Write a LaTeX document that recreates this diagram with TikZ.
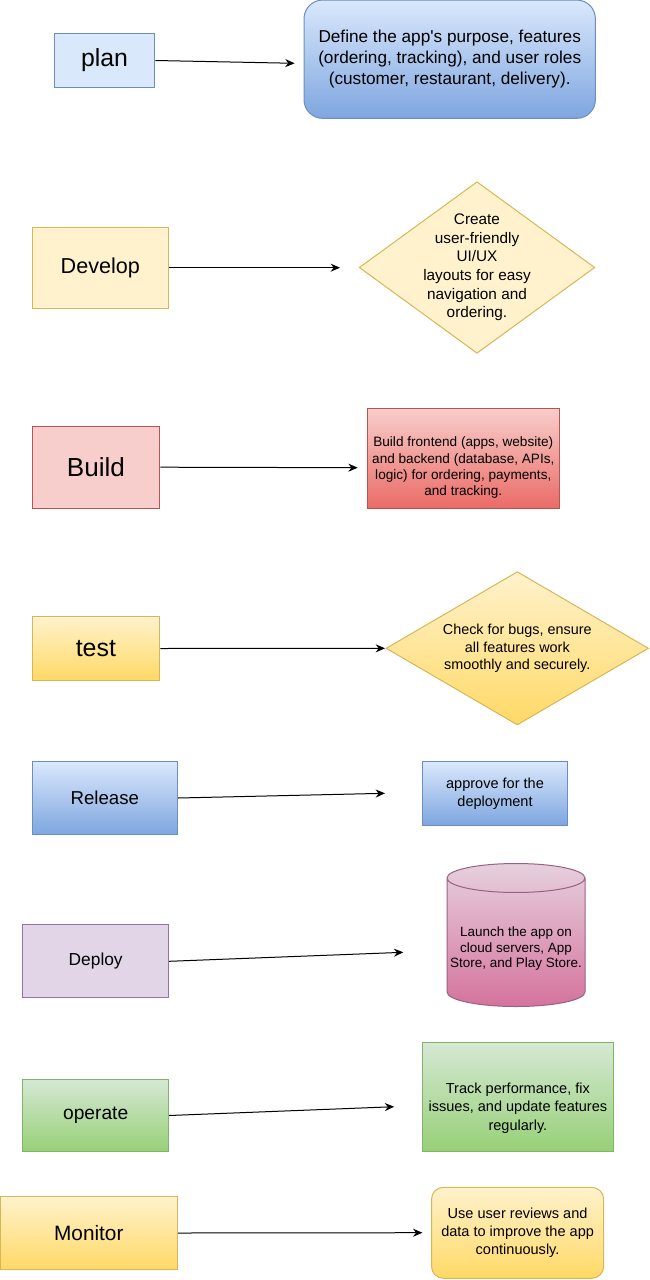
\documentclass[tikz,border=0pt]{standalone}
\usepackage{fontspec}
\setmainfont{Liberation Sans}
\usetikzlibrary{shapes.geometric,arrows.meta}
\definecolor{blueF}{HTML}{DAE8FC}\definecolor{blueG}{HTML}{7EA6E0}\definecolor{blueS}{HTML}{6C8EBF}
\definecolor{yelF}{HTML}{FFF2CC}\definecolor{yelG}{HTML}{FFD966}\definecolor{yelS}{HTML}{D6B656}
\definecolor{redF}{HTML}{F8CECC}\definecolor{redG}{HTML}{EA6B66}\definecolor{redS}{HTML}{B85450}
\definecolor{purF}{HTML}{E1D5E7}\definecolor{purS}{HTML}{9673A6}
\definecolor{pinkF}{HTML}{E6D0DE}\definecolor{pinkG}{HTML}{D5739D}\definecolor{pinkS}{HTML}{996185}
\definecolor{grnF}{HTML}{D5E8D4}\definecolor{grnG}{HTML}{97D077}\definecolor{grnS}{HTML}{82B366}
\begin{document}
\begin{tikzpicture}[>={Stealth[length=7pt,width=6pt]},x=.75pt,y=-.75pt,line width=.75pt,
  box/.style={draw,inner sep=0pt,align=center},
  wh/.style 2 args={minimum width=#1*.75pt,minimum height=#2*.75pt},
  fs/.style 2 args={font=\fontsize{#1}{#2}\selectfont},
  blue/.style={box,draw=blueS,top color=blueF,bottom color=blueG},
  yel/.style={box,draw=yelS,top color=yelF,bottom color=yelG},
  grn/.style={box,draw=grnS,top color=grnF,bottom color=grnG}]
\useasboundingbox (0,0) rectangle (649,1280);
\node[box,draw=blueS,fill=blueF,wh={100.4}{54.4},fs={18.6}{22}] (plan) at (104.6,60.5) {plan};
\node[blue,rounded corners=14pt,wh={291.4}{118.3},fs={12.9}{15.5}] (purpose) at (449.7,59.2)
  {Define the app\textquotesingle s purpose, features\\(ordering, tracking), and user roles\\(customer, restaurant, delivery).};
\node[box,draw=yelS,fill=yelF,wh={136.5}{81.3},fs={16.2}{19}] (develop) at (100.3,267.7) {Develop};
\node[box,diamond,aspect=1.373,inner sep=-8pt,draw=yelS,fill=yelF,wh={235.6}{171.6},fs={11.5}{13.9}] (layout) at (477,267.5)
  {Create\\user-friendly\\UI/UX\\layouts for easy\\navigation and\\ordering.};
\node[box,draw=redS,fill=redF,wh={127.8}{82.3},fs={19.6}{23}] (build) at (95.9,467.2) {Build};
\node[box,draw=redS,top color=redF,bottom color=redG,wh={191.4}{100},fs={10.2}{12.2}] (code) at (463.3,458.3)
  {\rule{0pt}{21.6pt}Build frontend (apps, website)\\and backend (database, APIs,\\logic) for ordering, payments,\\and tracking.};
\node[yel,wh={127.8}{63.6},fs={18.7}{22}] (test) at (95.9,648.5) {test};
\node[yel,diamond,aspect=1.712,inner sep=-8pt,wh={262.5}{153.3},fs={10.8}{12.9}] (check) at (517.3,648.3)
  {Check for bugs, ensure\\all features work\\smoothly and securely.};
\node[blue,wh={145.6}{72.6},fs={14}{17}] (release) at (104.8,798) {Release};
\node[blue,wh={145.2}{63.6},fs={10.9}{13.8}] (approve) at (495,793.5) {approve for the\\deployment};
\node[box,draw=purS,fill=purF,wh={145.7}{72.7},fs={13}{16}] (deploy) at (95.7,961.3) {Deploy};
\node[box,cylinder,shape border rotate=90,aspect=.22,draw=pinkS,top color=pinkF,bottom color=pinkG,
  wh={138}{143},fs={10.1}{11.8},anchor=south] (cloud) at (516,1007)
  {\rule{0pt}{16.5pt}Launch the app on\\cloud servers, App\\Store, and Play Store.};
\node[grn,wh={145.7}{72.4},fs={14.4}{17}] (operate) at (95.7,1115.5) {operate};
\node[grn,wh={190.9}{109},fs={10.9}{14}] (track) at (517.9,1097.2)
  {\rule{0pt}{24.1pt}Track performance, fix\\issues, and update features\\regularly.};
\node[yel,wh={177.6}{72.6},fs={15.6}{18}] (monitor) at (88.8,1233) {Monitor};
\node[yel,rounded corners=9pt,wh={172.2}{91},fs={10.9}{13.5}] (review) at (517.6,1232.8)
  {Use user reviews and\\data to improve the app\\continuously.};
\coordinate (planTip) at (294.6,63.3);
\coordinate (devTip) at (340,267.7);
\coordinate (buildTip) at (357.7,467.7);
\coordinate (testTip) at (385,648.3);
\coordinate (relTip) at (385,793.3);
\coordinate (depTip) at (403.3,952.3);
\coordinate (opTip) at (394.2,1106.7);
\coordinate (monTip) at (422.4,1232.7);
\draw[->] (plan.east)--(planTip);
\draw[->] (develop.east)--(devTip);
\draw[->] (build.east)--(buildTip);
\draw[->] (test.east)--(testTip);
\draw[->] (release.east)--(relTip);
\draw[->] (deploy.east)--(depTip);
\draw[->] (operate.east)--(opTip);
\draw[->] (monitor.east)--(monTip);
\end{tikzpicture}
\end{document}
